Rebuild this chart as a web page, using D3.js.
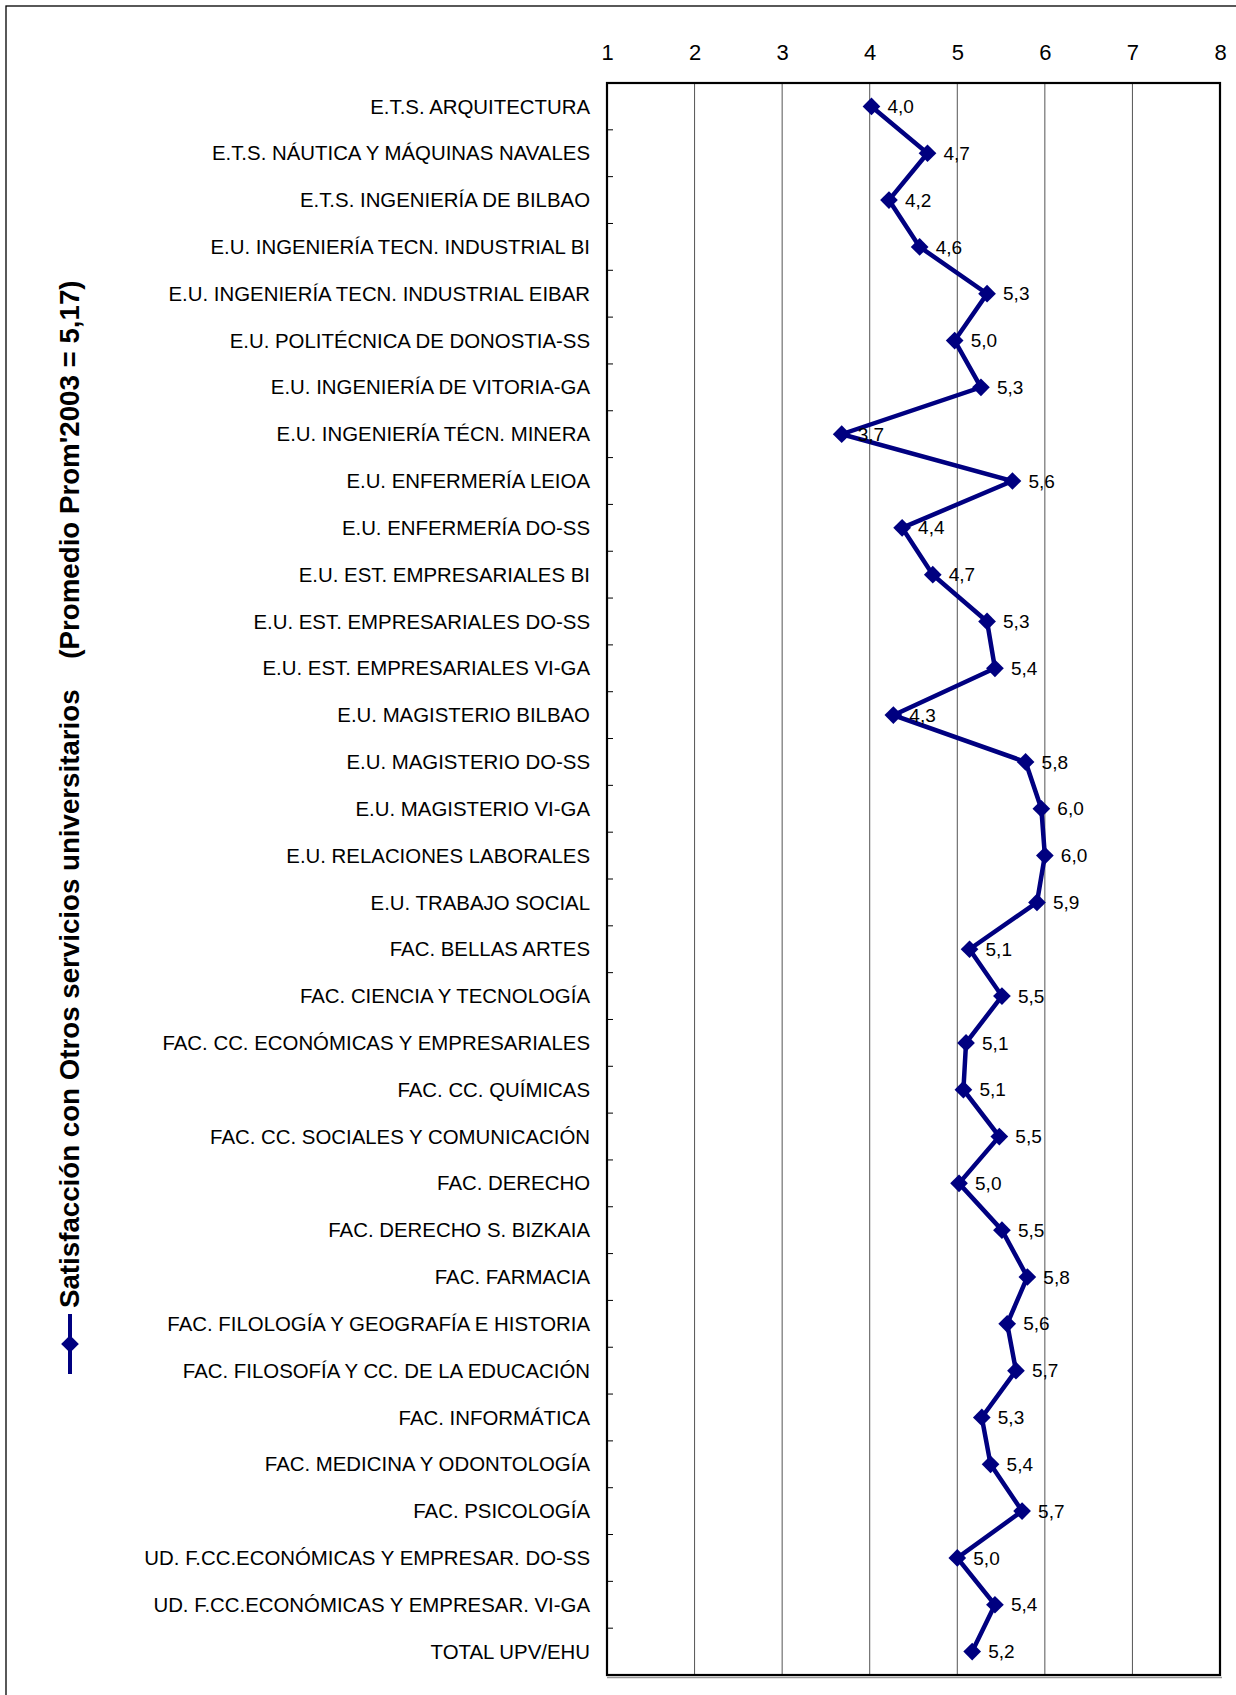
<!doctype html>
<html lang="es">
<head>
<meta charset="utf-8">
<title>Satisfacción con Otros servicios universitarios</title>
<script src="https://cdn.jsdelivr.net/npm/d3@7"></script>
<style>
  body { margin: 0; background: #fff; }
  svg text { font-family: "Liberation Sans", Arial, sans-serif; fill: #000; }
</style>
</head>
<body>
<svg id="chart" width="1236" height="1695"></svg>
<script>
// centros y valores (lectura aproximada de la gráfica)
var centros = [
  "E.T.S. ARQUITECTURA",
  "E.T.S. NÁUTICA Y MÁQUINAS NAVALES",
  "E.T.S. INGENIERÍA DE BILBAO",
  "E.U. INGENIERÍA TECN. INDUSTRIAL BI",
  "E.U. INGENIERÍA TECN. INDUSTRIAL EIBAR",
  "E.U. POLITÉCNICA DE DONOSTIA-SS",
  "E.U. INGENIERÍA DE VITORIA-GA",
  "E.U. INGENIERÍA TÉCN. MINERA",
  "E.U. ENFERMERÍA LEIOA",
  "E.U. ENFERMERÍA DO-SS",
  "E.U. EST. EMPRESARIALES BI",
  "E.U. EST. EMPRESARIALES DO-SS",
  "E.U. EST. EMPRESARIALES VI-GA",
  "E.U. MAGISTERIO BILBAO",
  "E.U. MAGISTERIO DO-SS",
  "E.U. MAGISTERIO VI-GA",
  "E.U. RELACIONES LABORALES",
  "E.U. TRABAJO SOCIAL",
  "FAC. BELLAS ARTES",
  "FAC. CIENCIA Y TECNOLOGÍA",
  "FAC. CC. ECONÓMICAS Y EMPRESARIALES",
  "FAC. CC. QUÍMICAS",
  "FAC. CC. SOCIALES Y COMUNICACIÓN",
  "FAC. DERECHO",
  "FAC. DERECHO S. BIZKAIA",
  "FAC. FARMACIA",
  "FAC. FILOLOGÍA Y GEOGRAFÍA E HISTORIA",
  "FAC. FILOSOFÍA Y CC. DE LA EDUCACIÓN",
  "FAC. INFORMÁTICA",
  "FAC. MEDICINA Y ODONTOLOGÍA",
  "FAC. PSICOLOGÍA",
  "UD. F.CC.ECONÓMICAS Y EMPRESAR. DO-SS",
  "UD. F.CC.ECONÓMICAS Y EMPRESAR. VI-GA",
  "TOTAL UPV/EHU"
];
var valores = [4.02, 4.66, 4.22, 4.57, 5.34, 4.97, 5.27, 3.68, 5.63, 4.37,
               4.72, 5.34, 5.43, 4.27, 5.78, 5.96, 6.00, 5.91, 5.14, 5.51,
               5.10, 5.07, 5.48, 5.02, 5.51, 5.80, 5.57, 5.67, 5.28, 5.38,
               5.74, 5.00, 5.43, 5.17];
var ticksX = [1, 2, 3, 4, 5, 6, 7, 8];
var leyenda = "Satisfacción con Otros servicios universitarios    (Promedio Prom'2003 = 5,17)";

var svg = d3.select("#chart");
var azul = "#000080";

// marco exterior
svg.append("rect")
    .attr("x", 6).attr("y", 6)
    .attr("width", 1240).attr("height", 1700)
    .attr("fill", "none").attr("stroke", "#000").attr("stroke-width", 1.3);

var area = { left: 607, right: 1220, top: 83, bottom: 1675 };

var x = d3.scaleLinear().domain([1, 8]).range([area.left, area.right]);
var y = d3.scaleBand().domain(centros).range([area.top, area.bottom]);
var yc = function (c) { return y(c) + y.bandwidth() / 2; };

// lineas de division verticales
svg.append("g").selectAll("line")
    .data(ticksX.slice(1, -1))
    .enter().append("line")
    .attr("x1", function (d) { return x(d); })
    .attr("x2", function (d) { return x(d); })
    .attr("y1", area.top).attr("y2", area.bottom)
    .attr("stroke", "#555").attr("stroke-width", 1);

// eje superior (solo etiquetas)
var ejeX = svg.append("g")
    .attr("transform", "translate(0," + (area.top - 23) + ")")
    .call(d3.axisTop(x).tickValues(ticksX).tickSize(0).tickPadding(0).tickFormat(d3.format("d")));
ejeX.select(".domain").remove();
ejeX.selectAll("text")
    .style("font-size", "22px")
    .attr("fill", "#000");

// eje izquierdo: marcas entre categorias, etiquetas a la izquierda
var bordes = centros.slice(1).map(function (c) { return y(c); });
svg.append("g").selectAll("line")
    .data(bordes)
    .enter().append("line")
    .attr("x1", area.left).attr("x2", area.left + 6)
    .attr("y1", function (d) { return d; })
    .attr("y2", function (d) { return d; })
    .attr("stroke", "#000").attr("stroke-width", 1);

svg.append("g").selectAll("text")
    .data(centros)
    .enter().append("text")
    .attr("x", area.left - 17)
    .attr("y", yc)
    .attr("dy", "0.35em")
    .attr("text-anchor", "end")
    .style("font-size", "20.4px")
    .text(function (d) { return d; });

// marco del area de trazado
svg.append("line")
    .attr("x1", area.left).attr("x2", area.right + 2)
    .attr("y1", area.bottom + 2.5).attr("y2", area.bottom + 2.5)
    .attr("stroke", "#999").attr("stroke-width", 1.5);
svg.append("rect")
    .attr("x", area.left).attr("y", area.top)
    .attr("width", area.right - area.left).attr("height", area.bottom - area.top)
    .attr("fill", "none").attr("stroke", "#000").attr("stroke-width", 2.2);

// serie
var puntos = centros.map(function (c, i) { return { c: c, v: valores[i] }; });

svg.append("path")
    .datum(puntos)
    .attr("fill", "none")
    .attr("stroke", azul)
    .attr("stroke-width", 4.5)
    .attr("d", d3.line()
        .x(function (d) { return x(d.v); })
        .y(function (d) { return yc(d.c); }));

var rombo = d3.symbol().type(d3.symbolDiamond2).size(200);
svg.append("g").selectAll("path")
    .data(puntos)
    .enter().append("path")
    .attr("d", rombo)
    .attr("fill", azul)
    .attr("transform", function (d) {
        return "translate(" + x(d.v) + "," + yc(d.c) + ")";
    });

var fmt = function (v) { return d3.format(".1f")(v).replace(".", ","); };
svg.append("g").selectAll("text")
    .data(puntos)
    .enter().append("text")
    .attr("x", function (d) { return x(d.v) + 16; })
    .attr("y", function (d) { return yc(d.c); })
    .attr("dy", "0.35em")
    .style("font-size", "19px")
    .text(function (d) { return fmt(d.v); });

// leyenda vertical
var lx = 70;
svg.append("line")
    .attr("x1", lx).attr("x2", lx)
    .attr("y1", 1314).attr("y2", 1374)
    .attr("stroke", azul).attr("stroke-width", 4);
svg.append("path")
    .attr("d", rombo)
    .attr("fill", azul)
    .attr("transform", "translate(" + lx + ",1344)");
svg.append("text")
    .attr("transform", "translate(" + (lx + 9) + ",1308) rotate(-90)")
    .style("font-size", "27.7px")
    .style("font-weight", "bold")
    .style("white-space", "pre")
    .attr("xml:space", "preserve")
    .text(leyenda);
</script>
</body>
</html>
